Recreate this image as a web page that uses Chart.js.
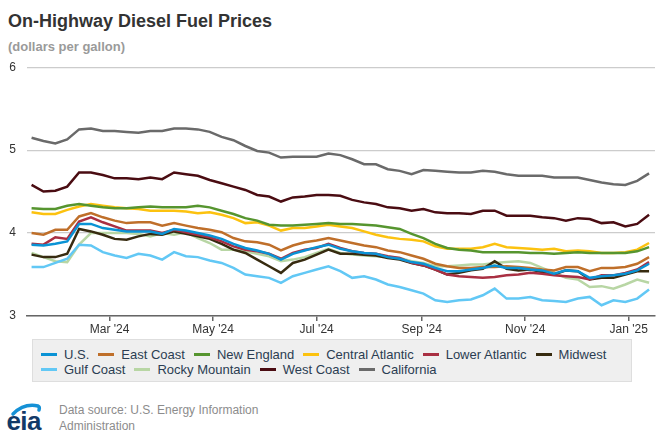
<!DOCTYPE html>
<html>
<head>
<meta charset="utf-8">
<script src="https://cdn.jsdelivr.net/npm/chart.js@4.4.1/dist/chart.umd.min.js"></script>
<style>
  body { margin: 0; width: 662px; height: 436px; background: #fff; position: relative; overflow: hidden;
         font-family: "Liberation Sans", Arial, sans-serif; }
  #title { position: absolute; left: 8px; top: 11px; font-size: 18px; font-weight: bold; color: #333; line-height: 20px; }
  #subtitle { position: absolute; left: 8px; top: 39px; font-size: 13px; font-weight: bold; color: #9a9a9a; line-height: 16px; }
  #chartBox { position: absolute; left: 0; top: 49px; width: 662px; height: 291px; }
  #legend { position: absolute; left: 32px; top: 339px; width: 598px; height: 41px; background: #efefef;
            border: 1px solid #dedede; font-size: 13px; color: #2b3d52; box-sizing: content-box; }
  .row { position: absolute; left: 8px; display: flex; align-items: center; white-space: nowrap; line-height: 15px; }
  .item { display: flex; align-items: center; margin-right: 9px; }
  .mark { width: 16px; height: 3px; margin-right: 7px; }
  #source { position: absolute; left: 59px; top: 402px; font-size: 12px; color: #8c8c8c; line-height: 16px; }
  #logo { position: absolute; left: 4px; top: 400px; }
</style>
</head>
<body>
<div id="title">On-Highway Diesel Fuel Prices</div>
<div id="subtitle">(dollars per gallon)</div>
<div id="chartBox"><canvas id="dieselChart"></canvas></div>
<div id="legend"></div>
<svg id="logo" width="42" height="34" viewBox="0 0 42 34">
  <path d="M9 14 Q 20 3 34 6 Q 36 7 35 10" fill="none" stroke="#1591d6" stroke-width="3.5" stroke-linecap="round"/>
  <text x="2.5" y="30" font-family="Liberation Sans, Arial, sans-serif" font-size="26" font-weight="bold"
        letter-spacing="-0.6" fill="#123a68">eia</text>
</svg>
<div id="source">Data source: U.S. Energy Information<br>Administration</div>
<script>
// weekly Monday prices
const weeks = [
  '2024-01-15', '2024-01-22', '2024-01-29', '2024-02-05', '2024-02-12', '2024-02-19', '2024-02-26',
  '2024-03-04', '2024-03-11', '2024-03-18', '2024-03-25', '2024-04-01', '2024-04-08', '2024-04-15',
  '2024-04-22', '2024-04-29', '2024-05-06', '2024-05-13', '2024-05-20', '2024-05-27', '2024-06-03',
  '2024-06-10', '2024-06-17', '2024-06-24', '2024-07-01', '2024-07-08', '2024-07-15', '2024-07-22',
  '2024-07-29', '2024-08-05', '2024-08-12', '2024-08-19', '2024-08-26', '2024-09-02', '2024-09-09',
  '2024-09-16', '2024-09-23', '2024-09-30', '2024-10-07', '2024-10-14', '2024-10-21', '2024-10-28',
  '2024-11-04', '2024-11-11', '2024-11-18', '2024-11-25', '2024-12-02', '2024-12-09', '2024-12-16',
  '2024-12-23', '2024-12-30', '2025-01-06', '2025-01-13'
];

const tickDates = ['2024-03-01', '2024-05-01', '2024-07-01', '2024-09-01', '2024-11-01', '2025-01-01'];
const tickLabels = ["Mar '24", "May '24", "Jul '24", "Sep '24", "Nov '24", "Jan '25"];
const yTicks = [3, 4, 5, 6];

const usPrices = [3.86, 3.85, 3.87, 3.90, 4.11, 4.11, 4.06, 4.04, 4.02, 4.02, 4.02, 3.99, 4.05, 4.03,
  4.00, 3.97, 3.93, 3.87, 3.82, 3.79, 3.75, 3.68, 3.75, 3.79, 3.83, 3.86, 3.81,
  3.78, 3.76, 3.75, 3.71, 3.69, 3.65, 3.63, 3.58, 3.54, 3.54, 3.56, 3.58, 3.61, 3.58,
  3.58, 3.56, 3.55, 3.51, 3.55, 3.54, 3.46, 3.48, 3.49, 3.51, 3.55, 3.63];
const eastCoast = [4.00, 3.98, 4.04, 4.04, 4.20, 4.24, 4.19, 4.15, 4.12, 4.13, 4.13, 4.09, 4.12, 4.09,
  4.06, 4.04, 4.01, 3.94, 3.90, 3.89, 3.86, 3.79, 3.85, 3.89, 3.91, 3.94, 3.91,
  3.88, 3.85, 3.83, 3.79, 3.77, 3.73, 3.69, 3.63, 3.60, 3.58, 3.58, 3.59, 3.59, 3.60,
  3.59, 3.58, 3.56, 3.55, 3.59, 3.59, 3.54, 3.58, 3.58, 3.59, 3.63, 3.71];
const newEngland = [4.30, 4.29, 4.29, 4.33, 4.35, 4.33, 4.31, 4.30, 4.30, 4.31, 4.32, 4.31, 4.31, 4.31,
  4.33, 4.31, 4.27, 4.23, 4.18, 4.15, 4.10, 4.09, 4.09, 4.10, 4.11, 4.12, 4.11,
  4.11, 4.10, 4.09, 4.07, 4.05, 3.99, 3.94, 3.87, 3.82, 3.80, 3.79, 3.77, 3.77, 3.77,
  3.77, 3.76, 3.76, 3.75, 3.76, 3.77, 3.76, 3.76, 3.76, 3.76, 3.78, 3.83];
const centralAtlantic = [4.25, 4.23, 4.23, 4.28, 4.32, 4.35, 4.33, 4.31, 4.30, 4.29, 4.27, 4.27, 4.27, 4.26,
  4.24, 4.25, 4.22, 4.18, 4.12, 4.13, 4.09, 4.03, 4.06, 4.06, 4.08, 4.10, 4.08,
  4.06, 4.02, 3.98, 3.95, 3.93, 3.92, 3.90, 3.84, 3.81, 3.81, 3.81, 3.83, 3.87, 3.83,
  3.82, 3.81, 3.80, 3.81, 3.78, 3.79, 3.78, 3.76, 3.76, 3.77, 3.80, 3.88];
const lowerAtlantic = [3.87, 3.86, 3.95, 3.93, 4.14, 4.19, 4.13, 4.08, 4.03, 4.03, 4.03, 4.00, 4.04, 4.01,
  3.98, 3.95, 3.90, 3.84, 3.80, 3.78, 3.75, 3.69, 3.76, 3.80, 3.82, 3.87, 3.82,
  3.78, 3.76, 3.75, 3.72, 3.70, 3.64, 3.61, 3.56, 3.50, 3.48, 3.47, 3.46, 3.47, 3.49,
  3.50, 3.52, 3.51, 3.49, 3.48, 3.47, 3.44, 3.49, 3.49, 3.52, 3.56, 3.65];
const midwest = [3.74, 3.71, 3.71, 3.75, 4.05, 4.02, 3.98, 3.93, 3.92, 3.96, 3.99, 3.98, 4.02, 3.99,
  3.96, 3.93, 3.87, 3.80, 3.76, 3.68, 3.60, 3.52, 3.64, 3.68, 3.74, 3.80, 3.75,
  3.75, 3.74, 3.73, 3.70, 3.68, 3.64, 3.61, 3.56, 3.50, 3.52, 3.55, 3.57, 3.66, 3.57,
  3.55, 3.56, 3.53, 3.50, 3.55, 3.54, 3.44, 3.46, 3.46, 3.50, 3.54, 3.54];
const gulfCoast = [3.59, 3.59, 3.64, 3.69, 3.86, 3.85, 3.77, 3.73, 3.70, 3.75, 3.73, 3.68, 3.77, 3.72,
  3.71, 3.67, 3.64, 3.58, 3.50, 3.48, 3.46, 3.40, 3.48, 3.52, 3.56, 3.60, 3.54,
  3.46, 3.48, 3.44, 3.38, 3.35, 3.31, 3.27, 3.19, 3.17, 3.19, 3.20, 3.25, 3.33, 3.21,
  3.21, 3.23, 3.19, 3.18, 3.17, 3.21, 3.23, 3.13, 3.19, 3.17, 3.21, 3.32];
const rockyMountain = [3.76, 3.71, 3.66, 3.65, 3.86, 4.00, 4.00, 4.00, 4.00, 3.99, 3.96, 4.00, 3.98, 4.01,
  3.94, 3.88, 3.80, 3.80, 3.78, 3.75, 3.72, 3.66, 3.68, 3.71, 3.76, 3.81, 3.76,
  3.74, 3.73, 3.72, 3.71, 3.70, 3.66, 3.64, 3.60, 3.60, 3.61, 3.62, 3.62, 3.64, 3.65,
  3.66, 3.64, 3.58, 3.52, 3.46, 3.44, 3.35, 3.36, 3.33, 3.38, 3.44, 3.40];
const westCoast = [4.58, 4.50, 4.51, 4.56, 4.73, 4.73, 4.70, 4.66, 4.66, 4.65, 4.67, 4.65, 4.73, 4.71,
  4.69, 4.64, 4.60, 4.56, 4.52, 4.46, 4.44, 4.38, 4.43, 4.44, 4.46, 4.46, 4.45,
  4.40, 4.37, 4.35, 4.31, 4.30, 4.27, 4.29, 4.25, 4.24, 4.24, 4.23, 4.27, 4.27, 4.21,
  4.21, 4.21, 4.19, 4.18, 4.15, 4.18, 4.17, 4.12, 4.13, 4.08, 4.11, 4.22];
const california = [5.15, 5.11, 5.08, 5.13, 5.25, 5.26, 5.23, 5.23, 5.22, 5.21, 5.23, 5.23, 5.26, 5.26,
  5.25, 5.22, 5.16, 5.12, 5.05, 4.99, 4.97, 4.91, 4.92, 4.92, 4.92, 4.96, 4.94,
  4.89, 4.83, 4.83, 4.77, 4.75, 4.71, 4.76, 4.75, 4.74, 4.73, 4.73, 4.75, 4.74, 4.71,
  4.69, 4.69, 4.69, 4.67, 4.67, 4.67, 4.64, 4.61, 4.59, 4.58, 4.63, 4.72];

const seriesNames = ['U.S.', 'East Coast', 'New England', 'Central Atlantic', 'Lower Atlantic', 'Midwest',
  'Gulf Coast', 'Rocky Mountain', 'West Coast', 'California'];
const seriesValues = [usPrices, eastCoast, newEngland, centralAtlantic, lowerAtlantic, midwest,
  gulfCoast, rockyMountain, westCoast, california];
const seriesColors = ['#0a93d5', '#bf6f2a', '#56952f', '#fcc20f', '#a92f42', '#372b10',
  '#62c8f5', '#b8d6a4', '#4a0c12', '#6a6a6a'];

function dayNumber(s) {
  const p = s.split('-').map(Number);
  return (Date.UTC(p[0], p[1] - 1, p[2]) - Date.UTC(2024, 0, 1)) / 86400000;
}

const weekDays = weeks.map(dayNumber);
const tickDays = tickDates.map(dayNumber);

// html legend, two rows like the original
const legendEl = document.getElementById('legend');
[[0, 6], [6, 10]].forEach(function(range, r) {
  const row = document.createElement('div');
  row.className = 'row';
  row.style.top = (r === 0 ? 7 : 22) + 'px';
  for (let i = range[0]; i < range[1]; i++) {
    const item = document.createElement('span');
    item.className = 'item';
    const mark = document.createElement('span');
    mark.className = 'mark';
    mark.style.background = seriesColors[i];
    item.appendChild(mark);
    item.appendChild(document.createTextNode(seriesNames[i]));
    row.appendChild(item);
  }
  legendEl.appendChild(row);
});

const ctx = document.getElementById('dieselChart');
new Chart(ctx, {
  type: 'line',
  data: {
    datasets: seriesNames.map(function(name, i) {
      return {
        label: name,
        data: seriesValues[i].map(function(v, j) { return { x: weekDays[j], y: v }; }),
        borderColor: seriesColors[i],
        backgroundColor: seriesColors[i],
        borderWidth: 2.5,
        pointRadius: 0,
        tension: 0
      };
    })
  },
  options: {
    responsive: true,
    maintainAspectRatio: false,
    animation: false,
    layout: { padding: { top: 5, right: 7, left: 0, bottom: 0 } },
    plugins: {
      legend: { display: false },
      tooltip: { enabled: false }
    },
    scales: {
      x: {
        type: 'linear',
        min: 11.3,
        max: 381.5,
        afterBuildTicks: function(axis) {
          axis.ticks = tickDays.map(function(v) { return { value: v }; });
        },
        afterFit: function(axis) { axis.height = 24; },
        ticks: {
          autoSkip: false,
          maxRotation: 0,
          padding: 1,
          color: '#333',
          font: { family: 'Liberation Sans, Arial, sans-serif', size: 12 },
          callback: function(value) {
            const k = tickDays.indexOf(value);
            return k >= 0 ? tickLabels[k] : '';
          }
        },
        grid: { drawOnChartArea: false, drawTicks: true, tickLength: 5, color: '#666', lineWidth: 1.5 },
        border: { display: true, color: '#666', width: 1.5 }
      },
      y: {
        min: 3,
        max: 6,
        afterBuildTicks: function(axis) {
          axis.ticks = yTicks.map(function(v) { return { value: v }; });
        },
        afterFit: function(axis) { axis.width = 27; },
        ticks: {
          padding: 11,
          color: '#333',
          font: { family: 'Liberation Sans, Arial, sans-serif', size: 12 }
        },
        grid: { drawTicks: false, color: '#cccccc', lineWidth: 1.2 },
        border: { display: false }
      }
    }
  }
});
</script>
</body>
</html>
